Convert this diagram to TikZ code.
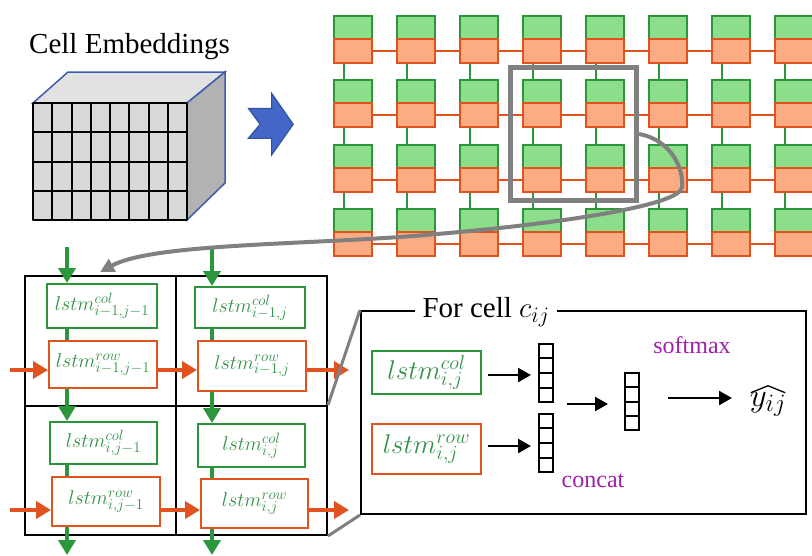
\RequirePackage{fix-cm}
\documentclass[tikz,border=0pt]{standalone}
\usepackage{fontspec}
\setmainfont{Liberation Serif}
\usetikzlibrary{arrows.meta,calc}
\DeclareMathSizes{20}{20}{15}{11}
\DeclareMathSizes{27}{27}{20}{14}
\DeclareMathSizes{29}{29}{22}{15}
\DeclareMathSizes{33}{33}{25}{17}
\definecolor{gfill}{RGB}{141,222,139}
\definecolor{gstroke}{RGB}{44,150,60}
\definecolor{ofill}{RGB}{252,172,130}
\definecolor{ostroke}{RGB}{224,82,30}
\definecolor{lstmtext}{RGB}{50,145,70}
\definecolor{hgray}{RGB}{128,128,128}
\definecolor{cubeblue}{RGB}{63,91,171}
\definecolor{arrowblue}{RGB}{68,102,200}
\definecolor{arrowblueb}{RGB}{47,82,150}
\definecolor{purp}{RGB}{160,32,170}
\definecolor{facefront}{RGB}{217,217,217}
\definecolor{facetop}{RGB}{226,226,226}
\definecolor{faceside}{RGB}{178,178,178}
\newcommand\myTitleFont{\fontsize{29}{34}\selectfont}
\newcommand\myLstmFont{\fontsize{20}{22}\selectfont}
\newcommand\myLstmFontB{\fontsize{27}{30}\selectfont}
\newcommand\myHatFont{\fontsize{33}{36}\selectfont}
\newcommand\myPurpleFont{\fontsize{24}{28}\selectfont}
\begin{document}
\begin{tikzpicture}[x=1pt,y=-1pt,
  topgreen/.style={draw=gstroke, fill=gfill, line width=2pt, minimum width=38pt, minimum height=23pt, inner sep=0pt, anchor=north west},
  toporange/.style={draw=ostroke, fill=ofill, line width=2pt, minimum width=38pt, minimum height=24pt, inner sep=0pt, anchor=north west},
  gcon/.style={draw=gstroke, line width=2pt},
  ocon/.style={draw=ostroke, line width=2pt},
  cellbox/.style={draw=black, line width=2pt, inner sep=0pt, anchor=north west},
  lstmg/.style={draw=gstroke, fill=white, line width=2pt, inner sep=0pt, text=lstmtext, font=\myLstmFont},
  lstmo/.style={draw=ostroke, fill=white, line width=2pt, inner sep=0pt, text=lstmtext, font=\myLstmFont},
  garrow/.style={draw=gstroke, line width=4pt, -{Triangle[length=15pt,width=17pt]}},
  gshaft/.style={draw=gstroke, line width=4pt},
  oarrow/.style={draw=ostroke, line width=4pt, -{Triangle[length=15pt,width=17pt]}},
  blkarrow/.style={draw=black, line width=2.5pt, -{Triangle[length=13pt,width=14pt]}},
  vecbox/.style={draw=black, line width=2pt, minimum width=14pt, minimum height=58pt, inner sep=0pt},
  zoomline/.style={draw=hgray, line width=3pt}
]
\useasboundingbox (0,0) rectangle (812,555);

% ---------- Cell embeddings cube ----------
\node[font=\myTitleFont, anchor=base, inner sep=0pt] (celltitle) at (129.5,53) {Cell Embeddings};
\fill[facetop, draw=cubeblue, line width=1.5pt] (33,103) -- (68,72) -- (225,72) -- (187,103) -- cycle;
\fill[faceside, draw=cubeblue, line width=1.5pt] (187,103) -- (225,72) -- (225,183) -- (187,220) -- cycle;
\fill[facefront, draw=cubeblue, line width=1.5pt] (33,103) rectangle (187,220);
\foreach \k in {0,...,8} \draw[line width=2pt] ({33+19.25*\k},103) -- ({33+19.25*\k},220);
\foreach \k in {0,...,4} \draw[line width=2pt] (33,{103+29.25*\k}) -- (187,{103+29.25*\k});

% ---------- blue arrow ----------
\filldraw[fill=arrowblue, draw=arrowblueb, line width=1pt]
  (248.3,108.3) -- (271.7,108.3) -- (271.7,93.3) -- (293.3,124.3) -- (271.7,155)
  -- (271.7,138.3) -- (248.3,138.3) -- (260,124.3) -- cycle;

% ---------- top grid ----------
\foreach \r in {0,...,3} {
  \foreach \c in {0,...,7} {
    \node[topgreen] (g\r-\c) at ({333+63*\c},{15+64.3*\r}) {};
    \node[toporange] (o\r-\c) at ({333+63*\c},{38+64.3*\r}) {};
  }
}
\foreach \r in {0,...,3} {
  \foreach \c [evaluate=\c as \cn using int(\c+1)] in {0,...,6} {
    \draw[ocon] (o\r-\c.east) -- (o\r-\cn.west);
  }
}
\foreach \r [evaluate=\r as \rn using int(\r+1)] in {0,...,2} {
  \foreach \c in {0,...,7} {
    \draw[gcon] ([xshift=11pt]o\r-\c.south west) -- ([xshift=11pt]g\rn-\c.north west);
  }
}

% highlight rectangle
\node[draw=hgray, line width=5pt, minimum width=126pt, minimum height=133pt, inner sep=0pt] (hl) at (573.5,134) {};

% ---------- bottom-left 2x2 grid ----------
\node[cellbox, minimum width=151pt, minimum height=130pt] (C11) at (24,275) {};
\node[cellbox, minimum width=151pt, minimum height=130pt] (C12) at (175,275) {};
\node[cellbox, minimum width=151pt, minimum height=129pt] (C21) at (24,405) {};
\node[cellbox, minimum width=151pt, minimum height=129pt] (C22) at (175,405) {};

\node[lstmg, minimum width=110pt, minimum height=44pt] (G11) at (102,306) {$lstm^{col}_{i-1,j-1}$};
\node[lstmo, minimum width=108pt, minimum height=47pt] (O11) at (103,364.5) {$lstm^{row}_{i-1,j-1}$};
\node[lstmg, minimum width=110pt, minimum height=41pt] (G12) at (250,307.5) {$lstm^{col}_{i-1,j}$};
\node[lstmo, minimum width=108pt, minimum height=50pt] (O12) at (252,366) {$lstm^{row}_{i-1,j}$};
\node[lstmg, minimum width=107pt, minimum height=42pt] (G21) at (103.5,443) {$lstm^{col}_{i,j-1}$};
\node[lstmo, minimum width=108pt, minimum height=49pt] (O21) at (106,501.5) {$lstm^{row}_{i,j-1}$};
\node[lstmg, minimum width=107pt, minimum height=43pt] (G22) at (251.5,445.5) {$lstm^{col}_{i,j}$};
\node[lstmo, minimum width=107pt, minimum height=49pt] (O22) at (254.5,503.5) {$lstm^{row}_{i,j}$};

% green vertical flows
\coordinate (ca) at (67,247);
\coordinate (cb) at (212,247);
\coordinate (ea) at (67,555);
\coordinate (eb) at (212,555);
\draw[garrow] (ca) -- (ca |- G11.north);
\draw[gshaft] (ca |- G11.south) -- (ca |- O11.north);
\draw[garrow] (ca |- O11.south) -- (ca |- G21.north);
\draw[gshaft] (ca |- G21.south) -- (ca |- O21.north);
\draw[garrow] (ca |- O21.south) -- (ea);
\draw[garrow] (cb) -- (cb |- G12.north);
\draw[gshaft] (cb |- G12.south) -- (cb |- O12.north);
\draw[garrow] (cb |- O12.south) -- (cb |- G22.north);
\draw[gshaft] (cb |- G22.south) -- (cb |- O22.north);
\draw[garrow] (cb |- O22.south) -- (eb);

% orange horizontal flows
\coordinate (ra) at (10,370);
\coordinate (rae) at (349,370);
\coordinate (rb) at (10,510);
\coordinate (rbe) at (349,510);
\draw[oarrow] (ra) -- (ra -| O11.west);
\draw[oarrow] (ra -| O11.east) -- (ra -| O12.west);
\draw[oarrow] (ra -| O12.east) -- (rae);
\draw[oarrow] (rb) -- (rb -| O21.west);
\draw[oarrow] (rb -| O21.east) -- (rb -| O22.west);
\draw[oarrow] (rb -| O22.east) -- (rbe);

% ---------- right detail box ----------
\node[draw=black, line width=2pt, minimum width=445pt, minimum height=203pt, inner sep=0pt, anchor=north west] (BB) at (360,310) {};
\draw[zoomline] (C22.north east) -- (BB.north west);
\draw[zoomline] (C22.south east) -- (BB.south west);
\node[fill=white, inner xsep=8pt, inner ysep=2pt, font=\myTitleFont] (title) at (486,312) {For cell $c_{ij}$};

\node[lstmg, font=\myLstmFontB, minimum width=109pt, minimum height=43pt] (Gd) at (426.5,372.5) {$lstm^{col}_{i,j}$};
\node[lstmo, font=\myLstmFontB, minimum width=109pt, minimum height=50pt] (Od) at (426.5,449) {$lstm^{row}_{i,j}$};

\node[vecbox] (v1) at (546,373) {};
\node[vecbox] (v2) at (546,443) {};
\node[vecbox, minimum height=57pt] (v3) at (632,401.5) {};
\foreach \v in {v1,v2,v3} {
  \foreach \f in {0.25,0.5,0.75} {
    \draw[line width=2pt] ($(\v.north west)!\f!(\v.south west)$) -- ($(\v.north east)!\f!(\v.south east)$);
  }
}

\node[inner sep=0pt, font=\myHatFont] (yhat) at (768,404) {$y_{ij}$};
\draw[line width=1.3pt, line join=round] ([shift={(1pt,-1pt)}]yhat.north west) -- ([shift={(0pt,6pt)}]yhat.north) -- ([shift={(-1pt,-1pt)}]yhat.north east);

\coordinate (a1s) at (488,375);
\coordinate (a2s) at (488,446);
\coordinate (a3s) at (567,404);
\coordinate (a4s) at (668,398);
\draw[blkarrow] (a1s) -- ([xshift=-7pt]a1s -| v1.west);
\draw[blkarrow] (a2s) -- ([xshift=-7pt]a2s -| v2.west);
\draw[blkarrow] (a3s) -- ([xshift=-16pt]a3s -| v3.west);
\draw[blkarrow] (a4s) -- (732,398);

\node[text=purp, font=\myPurpleFont, anchor=base] (softmax) at (692,353) {softmax};
\node[text=purp, font=\myPurpleFont, anchor=base] (concat) at (593,487) {concat};

% ---------- gray curved arrow ----------
\coordinate (tipc) at (100,272);
\draw[draw=hgray, line width=4pt, -{Triangle[length=14pt,width=14pt]}]
  (hl.east) .. controls (672,140) and (684,170) .. (682,187)
  .. controls (682,205) and (560,225) .. (400,237)
  .. controls (280,245) and (150,245) .. (tipc);
\end{tikzpicture}
\end{document}
